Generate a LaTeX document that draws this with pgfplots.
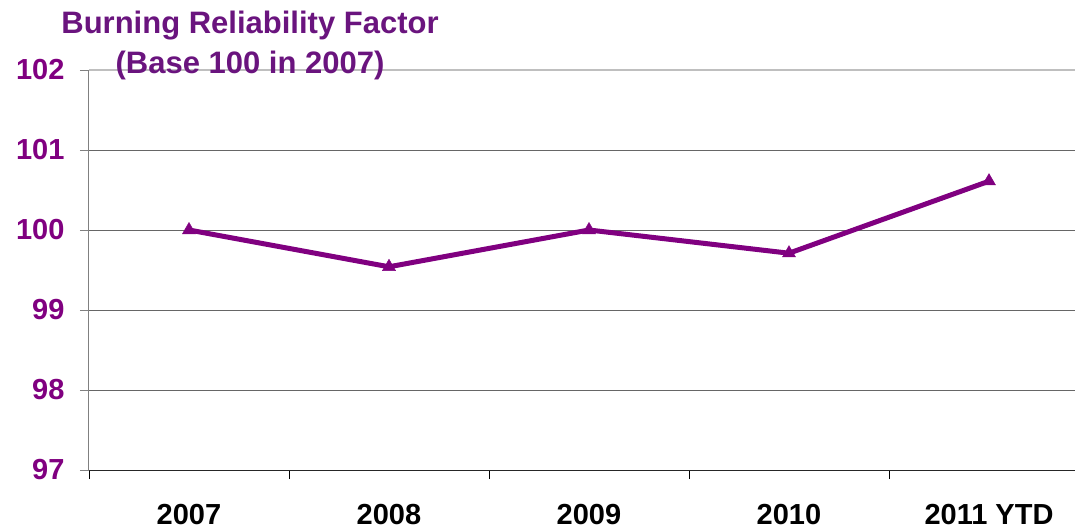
\documentclass[border=0pt]{standalone}
\usepackage{pgfplots}
\pgfplotsset{compat=1.18}
\usepackage{fontspec}
\setmainfont{Liberation Sans}
\definecolor{tickpurple}{RGB}{128,0,128}
\definecolor{titlepurple}{RGB}{106,20,126}
\definecolor{linepurple}{RGB}{128,0,128}
\begin{document}
\begin{tikzpicture}
\begin{axis}[
  at={(0pt,0pt)}, anchor=south west,
  scale only axis, width=1000pt, height=400pt,
  xmin=-0.5, xmax=4.5, ymin=97, ymax=102,
  xtick={0,1,2,3,4},
  xticklabels={2007,2008,2009,2010,2011 YTD},
  minor xtick={-0.5,0.5,1.5,2.5,3.5,4.5},
  major x tick style={draw=none},
  minor x tick style={draw=black, line width=0.8pt},
  minor tick length=9pt,
  ytick={97,98,99,100,101,102},
  ymajorgrids, grid style={gray!80!black, line width=1pt},
  axis x line*=bottom, axis y line*=left,
  x axis line style={draw=black!85, line width=1pt, -},
  y axis line style={draw=gray, line width=1pt, -},
  y tick style={draw=gray, line width=1pt},
  major tick length=9pt,
  tick align=outside,
  xticklabel style={font=\fontsize{29}{32}\selectfont\bfseries, text=black, yshift=-22pt},
  yticklabel style={font=\fontsize{29}{32}\selectfont\bfseries, text=tickpurple, xshift=-12pt},
  /pgf/number format/assume math mode=true,
  clip=false,
]
\addplot[color=linepurple, line width=5pt, mark=triangle*, mark size=7.5pt, mark options={line width=0.5pt, solid}] coordinates {
 (0,100) (1,99.54) (2,100) (3,99.71) (4,100.61)
};
\draw[gray!50, line width=1.2pt] (axis cs:-0.5,102) -- (axis cs:4.5,102);
\node[align=center, text=titlepurple, font=\fontsize{31}{40}\selectfont\bfseries, anchor=center] at (161pt,425pt) {Burning Reliability Factor\\(Base 100 in 2007)};
\end{axis}
\pgfresetboundingbox
\path (-89pt,-60pt) rectangle (986pt,470pt);
\end{tikzpicture}
\end{document}
